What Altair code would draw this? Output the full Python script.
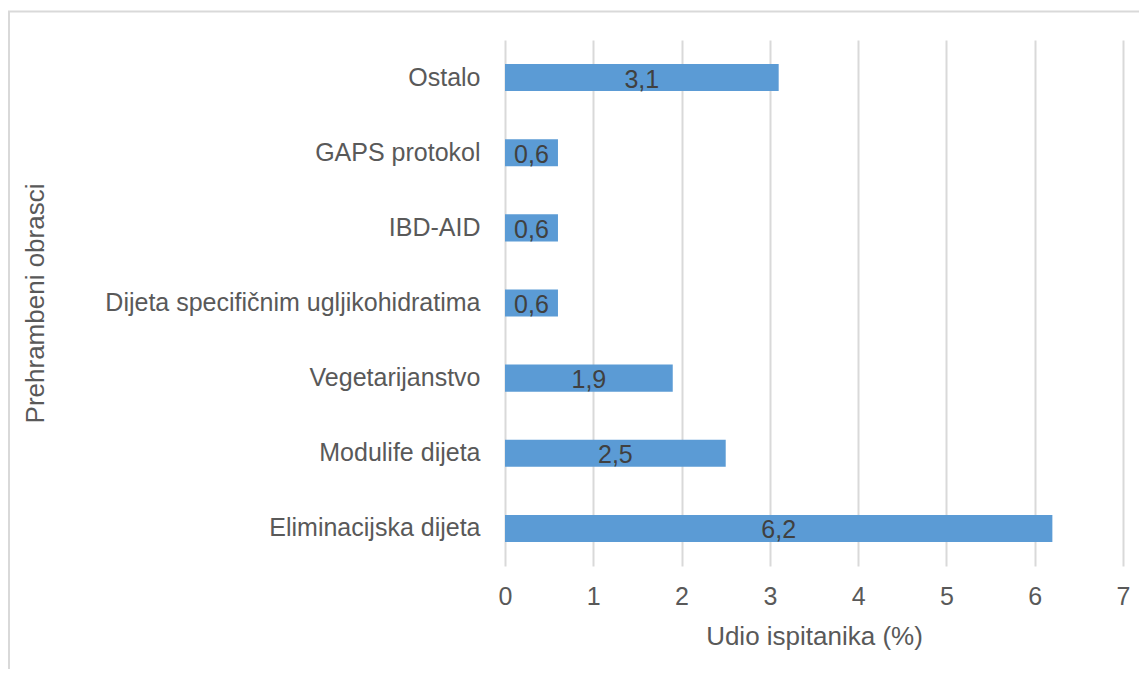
import altair as alt
import pandas as pd

categories = [
    "Ostalo",
    "GAPS protokol",
    "IBD-AID",
    "Dijeta specifičnim ugljikohidratima",
    "Vegetarijanstvo",
    "Modulife dijeta",
    "Eliminacijska dijeta",
]
values = [3.1, 0.6, 0.6, 0.6, 1.9, 2.5, 6.2]
x_ticks = [0, 1, 2, 3, 4, 5, 6, 7]

df = pd.DataFrame({"cat": categories, "val": values})

FONT = "Liberation Sans"
GREY = "#595959"

y_enc = alt.Y(
    "cat:N",
    sort=categories,
    scale=alt.Scale(paddingInner=0.64, paddingOuter=0.32),
    axis=alt.Axis(
        title="Prehrambeni obrasci",
        domain=False,
        ticks=False,
        grid=False,
        labelFont=FONT,
        labelFontSize=25,
        labelColor=GREY,
        labelPadding=25,
        labelLimit=500,
        titleFont=FONT,
        titleFontSize=26,
        titleFontWeight="normal",
        titleColor=GREY,
        titleAngle=-90,
        titleX=-470,
        titleY=263,
        titleAlign="center",
        titleBaseline="middle",
    ),
)

bars = alt.Chart(df).mark_bar(color="#5B9BD5").encode(
    x=alt.X(
        "val:Q",
        scale=alt.Scale(domain=[0, 7], nice=False),
        axis=alt.Axis(
            values=x_ticks,
            format="d",
            title="Udio ispitanika (%)",
            domain=False,
            ticks=False,
            grid=True,
            gridColor="#d9d9d9",
            gridWidth=2,
            labelFont=FONT,
            labelFontSize=25,
            labelColor=GREY,
            labelPadding=18,
            labelFlush=False,
            titleFont=FONT,
            titleFontSize=26,
            titleFontWeight="normal",
            titleColor=GREY,
            titleY=70,
            titleBaseline="middle",
        ),
    ),
    y=y_enc,
)

labels = alt.Chart(df).transform_calculate(
    mid="datum.val / 2",
    lab="replace(format(datum.val, '.1f'), '.', ',')",
).mark_text(font=FONT, fontSize=25, color="#404040", dy=2).encode(
    x=alt.X("mid:Q"),
    y=alt.Y("cat:N", sort=categories),
    text="lab:N",
)

border_df = pd.DataFrame({"a": [0]})
left_border = alt.Chart(border_df).mark_rule(color="#d9d9d9", strokeWidth=2).encode(
    x=alt.value(-496), y=alt.value(-29), y2=alt.value(640)
)
top_border = alt.Chart(border_df).mark_rule(color="#d9d9d9", strokeWidth=2).encode(
    x=alt.value(-497), x2=alt.value(640), y=alt.value(-28.5)
)

chart = alt.layer(bars, labels, left_border, top_border).properties(
    width=618,
    height=526,
    padding={"left": 497, "top": 32, "right": 16, "bottom": 103},
    autosize=alt.AutoSizeParams(type="none"),
).configure_view(stroke=None)

chart.save("out.html", embed_options={"renderer": "svg", "actions": False})
